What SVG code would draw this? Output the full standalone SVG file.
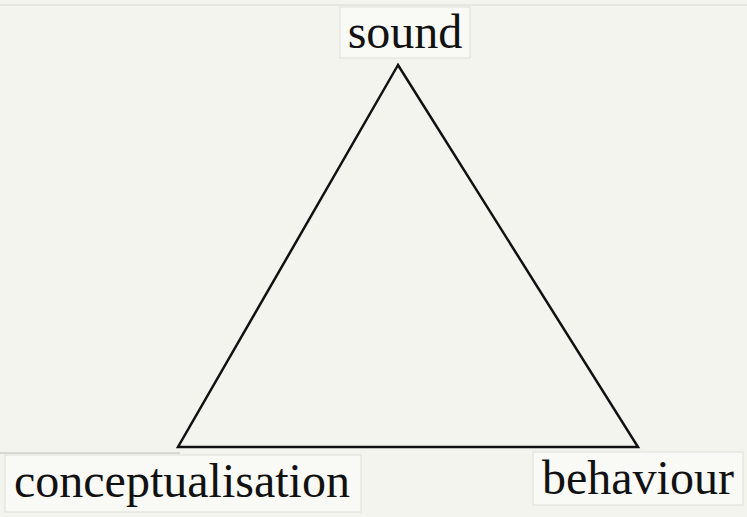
<svg xmlns="http://www.w3.org/2000/svg" width="747" height="517" viewBox="0 0 747 517">
<style>
.lbl{font-family:"Liberation Serif","Times New Roman",serif;font-size:48px;fill:#111;}
.box{fill:#f9f9f6;stroke:#deded8;stroke-width:1;}
.edge{stroke:#111;stroke-width:2.5;fill:none;stroke-linejoin:miter;}
</style>
<rect width="747" height="517" fill="#f4f4ef"/>
<line x1="0" y1="5" x2="747" y2="5" stroke="#dadad4" stroke-width="1"/>
<line x1="0" y1="453" x2="180" y2="453" stroke="#cfcfc9" stroke-width="1.5"/>
<g id="connectors">
<polygon class="edge" points="398,65 178,447 638,447"/>
</g>
<g id="node-sound">
<rect class="box" x="340" y="7" width="130" height="51"/>
<text class="lbl" x="405" y="48" text-anchor="middle">sound</text>
</g>
<g id="node-conceptualisation">
<rect class="box" x="5" y="455" width="356" height="57"/>
<text class="lbl" x="14" y="497">conceptualisation</text>
</g>
<g id="node-behaviour">
<rect class="box" x="533" y="452" width="210" height="53"/>
<text class="lbl" x="542" y="494">behaviour</text>
</g>
</svg>
